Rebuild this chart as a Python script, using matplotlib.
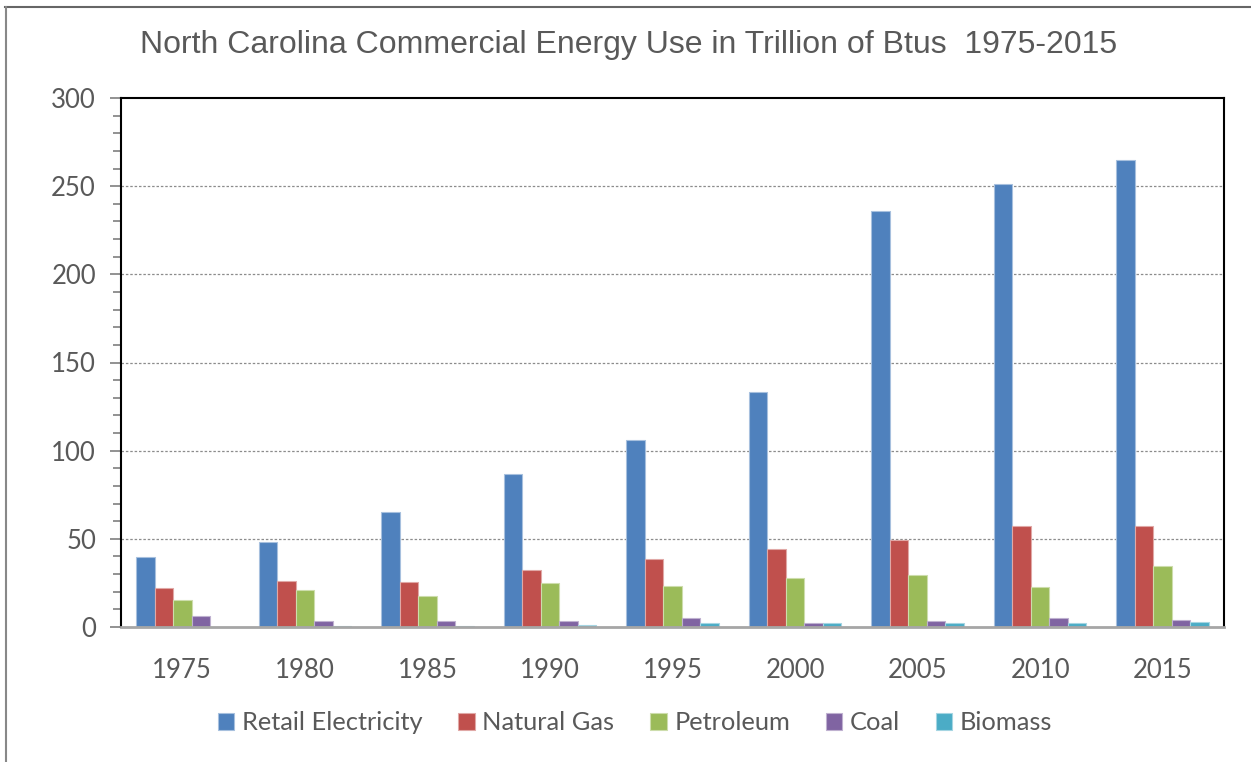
import matplotlib
matplotlib.use("Agg")
import matplotlib.pyplot as plt
from matplotlib.lines import Line2D
from matplotlib.ticker import MultipleLocator
import numpy as np

years = ["1975", "1980", "1985", "1990", "1995", "2000", "2005", "2010", "2015"]
series_names = ["Retail Electricity", "Natural Gas", "Petroleum", "Coal", "Biomass"]
retail_electricity = [39.7, 48.4, 65.2, 86.8, 106.0, 133.3, 236.0, 251.3, 264.9]
natural_gas = [21.9, 26.3, 25.7, 32.1, 38.4, 44.2, 49.5, 57.3, 57.1]
petroleum = [15.3, 21.0, 17.6, 24.8, 23.1, 28.0, 29.3, 22.7, 34.4]
coal = [6.1, 3.4, 3.6, 3.2, 4.9, 2.5, 3.6, 5.1, 4.0]
biomass = [0.2, 0.3, 0.3, 1.1, 2.3, 2.3, 2.3, 2.1, 3.0]
colors = ["#4F81BD", "#C0504D", "#9BBB59", "#8064A2", "#4BACC6"]
edge_colors = ["#A7C0DE", "#E0A8A6", "#CDDDAC", "#BFB1D0", "#A5D5E2"]

all_series = [retail_electricity, natural_gas, petroleum, coal, biomass]

fig = plt.figure(figsize=(12.51, 7.62), dpi=100)
fig.patch.set_facecolor("white")
ax = fig.add_axes([121 / 1251, 1 - 627 / 762, (1224 - 121) / 1251, (627 - 98) / 762])

x = np.arange(len(years))
bar_w = 0.151
for i, (name, vals) in enumerate(zip(series_names, all_series)):
    offs = (i - 2) * bar_w
    ax.bar(x + offs, vals, width=bar_w, color=colors[i], edgecolor=edge_colors[i],
           linewidth=0.8, label=name, zorder=3)

ax.set_xlim(-0.5, len(years) - 0.5)
ax.set_ylim(0, 300)
ax.set_xticks(x)
ax.set_xticklabels(years)
ax.yaxis.set_major_locator(MultipleLocator(50))
ax.yaxis.set_minor_locator(MultipleLocator(10))

for y in range(50, 300, 50):
    ax.axhline(y, color="#8C8C8C", linestyle=(0, (2, 1.5)), linewidth=0.9, zorder=1)

for side in ["left", "top", "right"]:
    ax.spines[side].set_color("black")
    ax.spines[side].set_linewidth(1.5)
ax.spines["bottom"].set_color("#A6A6A6")
ax.spines["bottom"].set_linewidth(2)
ax.spines["bottom"].set_zorder(4)

tick_font = "Lato"
ax.tick_params(axis="y", which="major", direction="out", length=8, width=1.2,
               color="#7F7F7F", labelsize=18.5, labelcolor="#595959", pad=10)
ax.tick_params(axis="y", which="minor", direction="out", length=6, width=1.2,
               color="#7F7F7F")
ax.tick_params(axis="x", which="major", length=0, labelsize=18.5,
               labelcolor="#595959", pad=22)
for lbl in ax.get_xticklabels() + ax.get_yticklabels():
    lbl.set_fontfamily(tick_font)

fig.text(629 / 1251, 1 - 45 / 762,
         "North Carolina Commercial Energy Use in Trillion of Btus  1975-2015",
         ha="center", va="center", fontsize=23, color="#595959",
         family="Liberation Sans")

leg = fig.legend(loc="center", bbox_to_anchor=(635 / 1251, 1 - 723 / 762), ncol=5,
                 frameon=False, handlelength=0.65, handleheight=0.65,
                 handletextpad=0.3, columnspacing=1.4,
                 prop={"family": tick_font, "size": 18.3})
for t in leg.get_texts():
    t.set_color("#595959")

# outer frame of the chart area
fig.add_artist(Line2D([5 / 1251, 1], [1 - 6.5 / 762, 1 - 6.5 / 762],
                      transform=fig.transFigure, color="#666666", linewidth=1.5))
fig.add_artist(Line2D([5.5 / 1251, 5.5 / 1251], [0, 1 - 6.5 / 762],
                      transform=fig.transFigure, color="#888888", linewidth=1.5))

fig.savefig("out.png", dpi=100, facecolor="white")
